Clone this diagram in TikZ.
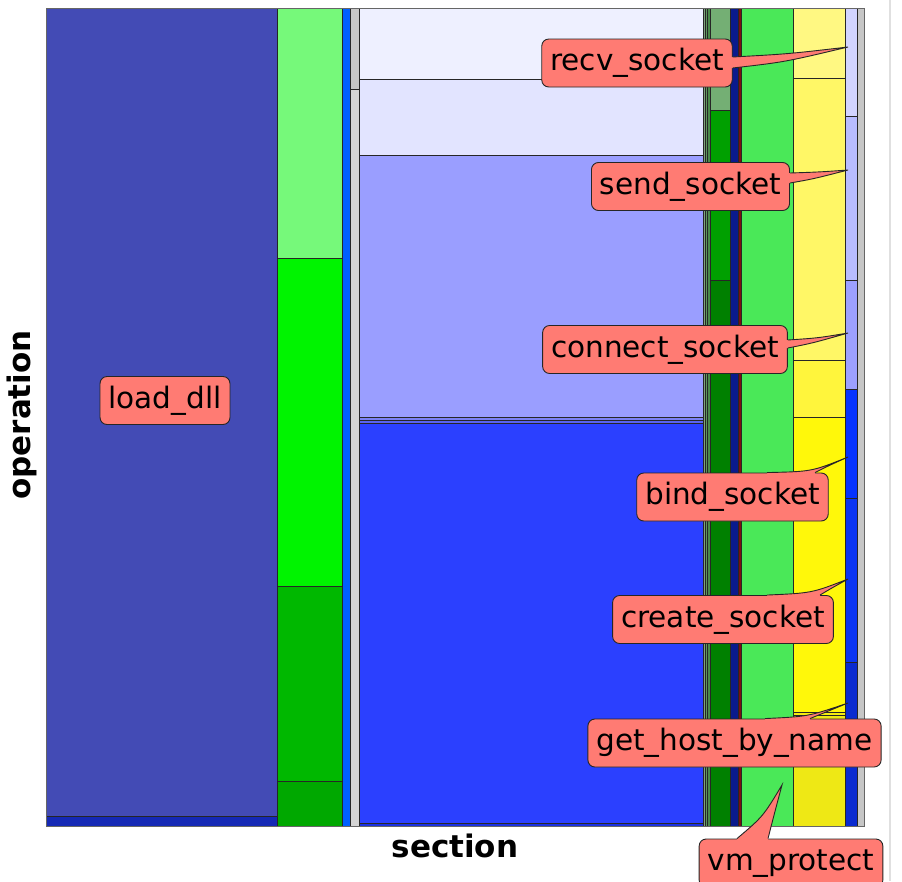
\documentclass[tikz,border=0pt]{standalone}
\usepackage{fontspec}
\setmainfont{DejaVu Sans}
\usetikzlibrary{positioning}
\definecolor{dllblue}{HTML}{434BB5}
\definecolor{dllbase}{HTML}{1529B5}
\definecolor{mintgreen}{HTML}{76F97A}
\definecolor{limegreen}{HTML}{00F400}
\definecolor{midgreen}{HTML}{00B800}
\definecolor{deepgreen}{HTML}{00A800}
\definecolor{netblue}{HTML}{0060FF}
\definecolor{palegrey}{HTML}{C6C6C6}
\definecolor{lightgrey}{HTML}{D4D4D4}
\definecolor{ice}{HTML}{EEF0FF}
\definecolor{frost}{HTML}{E2E4FF}
\definecolor{periwinkle}{HTML}{9A9EFF}
\definecolor{bandone}{HTML}{7C82F5}
\definecolor{bandtwo}{HTML}{5A64F0}
\definecolor{royal}{HTML}{2B40FF}
\definecolor{royaldark}{HTML}{1A30E0}
\definecolor{stripeone}{HTML}{7FA57F}
\definecolor{stripetwo}{HTML}{5E985E}
\definecolor{stripethree}{HTML}{4A8A4A}
\definecolor{sage}{HTML}{74AF74}
\definecolor{forest}{HTML}{00A000}
\definecolor{darkgreen}{HTML}{008000}
\definecolor{navy}{HTML}{0A1A8C}
\definecolor{maroon}{HTML}{7A1010}
\definecolor{vmgreen}{HTML}{4AE858}
\definecolor{lemonA}{HTML}{FFF882}
\definecolor{lemonB}{HTML}{FFF766}
\definecolor{lemonC}{HTML}{FFF53C}
\definecolor{lemonD}{HTML}{FFF80A}
\definecolor{lemonE}{HTML}{F5EE10}
\definecolor{lemonF}{HTML}{EEE815}
\definecolor{lavA}{HTML}{D2D4FF}
\definecolor{lavB}{HTML}{B8BCFF}
\definecolor{lavC}{HTML}{9CA0FF}
\definecolor{cobaltA}{HTML}{0533FF}
\definecolor{cobaltB}{HTML}{0A35F2}
\definecolor{cobaltC}{HTML}{0A2BD0}
\definecolor{salmon}{HTML}{FF7B73}

\begin{document}
\begin{tikzpicture}[
    x=1pt, y=-1pt,
    tile/.style={draw=black!85, line width=0.7pt},
    callout/.style={draw=black!85, fill=salmon, rounded corners=7pt, line width=0.9pt,
      font=\fontsize{29.5}{29.5}\selectfont, inner xsep=8.5pt, inner ysep=9.5pt,
      text height=22pt, text depth=7pt},
    tail edge/.style={draw=black!85, line width=0.9pt},
    axis label/.style={font=\fontsize{31}{31}\selectfont\bfseries}]
  % fixed 902 x 881 canvas, y runs downwards
  \path[use as bounding box] (0,0) rectangle (902,881);
  \clip (0,0) rectangle (902,881);

  % ================= mosaic tiles: x from / x to / y from / y to / colour =================
  \foreach \xa/\xb/\ya/\yb/\c in {
      46/277/8/816/dllblue, 46/277/816/826/dllbase,
      277/342/8/258/mintgreen, 277/342/258/586/limegreen, 277/342/586/781/midgreen, 277/342/781/826/deepgreen,
      342/350/8/826/netblue,
      350/359/8/89/palegrey, 350/359/89/826/lightgrey,
      359/703/8/79/ice, 359/703/79/155/frost, 359/703/155/417/periwinkle, 359/703/417/420/bandone,
      359/703/420/423/bandtwo, 359/703/423/823/royal, 359/703/823/826/royaldark,
      703/705/8/826/stripeone, 705/707/8/826/stripetwo, 707/710/8/826/stripethree,
      710/730/8/110/sage, 710/730/110/280/forest, 710/730/280/826/darkgreen,
      730/738/8/826/navy, 738/741/8/826/maroon,
      741/793/8/826/vmgreen,
      793/845/8/78/lemonA, 793/845/78/360/lemonB, 793/845/360/417/lemonC,
      793/845/417/712/lemonD, 793/845/712/715/lemonE, 793/845/715/826/lemonF,
      845/857/8/116/lavA, 845/857/116/280/lavB, 845/857/280/389/lavC,
      845/857/389/498/cobaltA, 845/857/498/662/cobaltB, 845/857/662/826/cobaltC,
      857/864/8/826/palegrey} {
    \filldraw[tile, fill=\c] (\xa,\ya) rectangle (\xb,\yb);
  }
  \draw[black!60, line width=1pt] (46,8) rectangle (864,826);
  \draw[black!12, line width=2pt] (890,0) -- (890,881);

  % ================= axis labels =================
  \node[axis label] (xlab) at (455,846) {section};
  \node[axis label, rotate=90] (ylab) at (22,415) {operation};

  % ================= callouts =================
  \node[callout] (dll) at (165,400.5) {load\_dll};
  \node[callout] (recv) at (637,63) {recv\_socket};
  \node[callout] (send) at (690.5,186.5) {send\_socket};
  \node[callout] (connect) at (665,349.5) {connect\_socket};
  \node[callout] (bind) at (732.5,497) {bind\_socket};
  \node[callout] (create) at (723,619.5) {create\_socket};
  \node[callout] (gethost) at (734.5,743) {get\_host\_by\_name};
  \node[callout] (vm) at (791,863) {vm\_protect};

  % tips of the callout wedges
  \coordinate (recv tip) at (848,47);
  \coordinate (send tip) at (848,170);
  \coordinate (connect tip) at (848,333);
  \coordinate (bind tip) at (848,457);
  \coordinate (create tip) at (848,579);
  \coordinate (gethost tip) at (848,703);
  \coordinate (vm tip) at (782,785);

  % wedges leaving the right side
  \fill[salmon] ([xshift=-3pt,yshift=6pt]recv.east) -- ([yshift=6pt]recv.east) .. controls +(55,-3) .. (recv tip)
    .. controls +(-63,15) .. ([yshift=-5pt]recv.east) -- ([xshift=-3pt,yshift=-5pt]recv.east) -- cycle;
  \draw[tail edge] ([yshift=6pt]recv.east) .. controls +(55,-3) .. (recv tip)
    .. controls +(-63,15) .. ([yshift=-5pt]recv.east);

  \fill[salmon] ([xshift=-3pt,yshift=13.5pt]send.east) -- ([yshift=13.5pt]send.east) .. controls +(30,-1) .. (send tip)
    .. controls +(-35,9) .. ([yshift=3.5pt]send.east) -- ([xshift=-3pt,yshift=3.5pt]send.east) -- cycle;
  \draw[tail edge] ([yshift=13.5pt]send.east) .. controls +(30,-1) .. (send tip)
    .. controls +(-35,9) .. ([yshift=3.5pt]send.east);

  \fill[salmon] ([xshift=-3pt,yshift=9.5pt]connect.east) -- ([yshift=9.5pt]connect.east) .. controls +(30,-2) .. (connect tip)
    .. controls +(-35,10) .. ([yshift=1.5pt]connect.east) -- ([xshift=-3pt,yshift=1.5pt]connect.east) -- cycle;
  \draw[tail edge] ([yshift=9.5pt]connect.east) .. controls +(30,-2) .. (connect tip)
    .. controls +(-35,10) .. ([yshift=1.5pt]connect.east);

  % wedges leaving the top side
  \fill[salmon] ([xshift=34.5pt,yshift=-3pt]bind.north) -- ([xshift=34.5pt]bind.north) .. controls +(45,-1) .. (bind tip)
    .. controls +(-20,9) .. ([xshift=82.5pt]bind.north) -- ([xshift=82.5pt,yshift=-3pt]bind.north) -- cycle;
  \draw[tail edge] ([xshift=34.5pt]bind.north) .. controls +(45,-1) .. (bind tip)
    .. controls +(-20,9) .. ([xshift=82.5pt]bind.north);

  \fill[salmon] ([xshift=44pt,yshift=-3pt]create.north) -- ([xshift=44pt]create.north) .. controls +(45,-2) .. (create tip)
    .. controls +(-18,10) .. ([xshift=97pt]create.north) -- ([xshift=97pt,yshift=-3pt]create.north) -- cycle;
  \draw[tail edge] ([xshift=44pt]create.north) .. controls +(45,-2) .. (create tip)
    .. controls +(-18,10) .. ([xshift=97pt]create.north);

  \fill[salmon] ([xshift=30.5pt,yshift=-3pt]gethost.north) -- ([xshift=30.5pt]gethost.north) .. controls +(43,-2) .. (gethost tip)
    .. controls +(-22,9) .. ([xshift=75.5pt]gethost.north) -- ([xshift=75.5pt,yshift=-3pt]gethost.north) -- cycle;
  \draw[tail edge] ([xshift=30.5pt]gethost.north) .. controls +(43,-2) .. (gethost tip)
    .. controls +(-22,9) .. ([xshift=75.5pt]gethost.north);

  \fill[salmon] ([xshift=-54pt,yshift=-3pt]vm.north) -- ([xshift=-54pt]vm.north) .. controls +(26,-22) .. (vm tip)
    .. controls +(-8,30) .. ([xshift=-23pt]vm.north) -- ([xshift=-23pt,yshift=-3pt]vm.north) -- cycle;
  \draw[tail edge] ([xshift=-54pt]vm.north) .. controls +(26,-22) .. (vm tip)
    .. controls +(-8,30) .. ([xshift=-23pt]vm.north);
\end{tikzpicture}
\end{document}
